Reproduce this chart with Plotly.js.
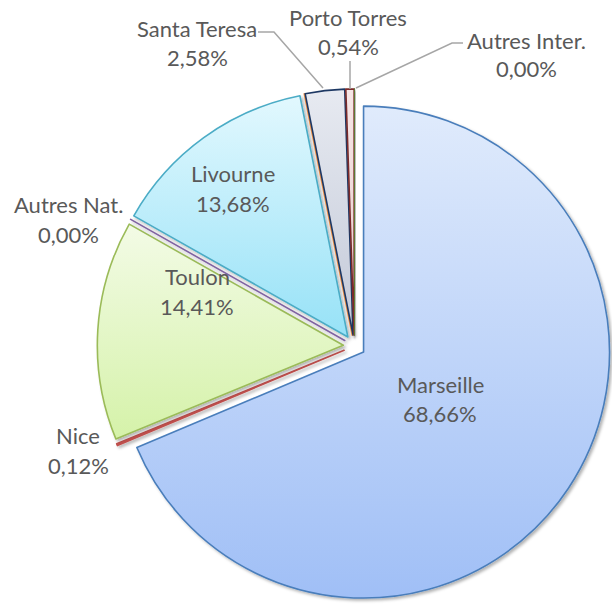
<!DOCTYPE html>
<html><head><meta charset="utf-8">
<script src="https://cdn.plot.ly/plotly-3.0.1.min.js"></script>
<style>html,body{margin:0;padding:0;background:#fff}#chart{width:612px;height:605px}</style>
</head><body><div id="chart"></div>
<script>
// Data
const labels = ['Marseille','Nice','Toulon','Autres Nat.','Livourne','Autre','Santa Teresa','Porto Torres','Autres Inter.'];
const values = [68.66, 0.12, 14.41, 0.001, 13.68, 0.001, 2.58, 0.54, 0.001];
const showLabel = [true, true, true, true, true, false, true, true, true];

// Styles
const borderColors = ['#4a7ebb','#c0504d','#9bbb59','#8064a2','#4bacc6','#f79646','#1f3864','#7b2c2a','#5f7a30'];
const gradTop    = ['#e0ebfc','#d99694','#f3fbe6','#b3a2c7','#e2f8fe','#fac090','#e7eaf1','#f6e6e6','#c3d69b'];
const gradBottom = ['#a0bff6','#c0504d','#d5f2a9','#8064a2','#97e2f7','#f79646','#c3c9d8','#e8cccc','#9bbb59'];
const solid      = ['#c2d6f9','#c0504d','#e4f7c7','#8064a2','#bdeefb','#f79646','#d5d9e4','#efd9d9','#9bbb59'];

// Label placement (px in the 612x605 picture)
const labelPos = [[440,384,413],[78,435,465],[197,277,306],[68,204,234],[233,174,203],[0,0,0],[197,28,57],[348,18,47],[526,40,68]];
const leaders = [
  null,null,null,null,null,null,
  [[258,32],[274,32],[323,88]],
  [[350,61],[350,89]],
  [[463,43],[452,43],[356,88]]
];

const W = 612, H = 605;
const px = x => x / W, py = y => 1 - y / H;
const fmt = v => v.toFixed(2).replace('.', ',') + '%';
const font = {family: 'Lato, "Open Sans", sans-serif', size: 22, color: '#595959'};

const annotations = [];
const shapes = [];
labels.forEach((lab, i) => {
  if (!showLabel[i]) return;
  const p = labelPos[i];
  annotations.push({text: lab, x: px(p[0]), y: py(p[1]), xref: 'paper', yref: 'paper', showarrow: false, xanchor: 'center', yanchor: 'middle', font});
  annotations.push({text: fmt(values[i]), x: px(p[0]), y: py(p[2]), xref: 'paper', yref: 'paper', showarrow: false, xanchor: 'center', yanchor: 'middle', font});
  if (leaders[i]) {
    const pts = leaders[i];
    let d = 'M' + pts.map(q => px(q[0]) + ',' + py(q[1])).join(' L');
    shapes.push({type: 'path', xref: 'paper', yref: 'paper', path: d, line: {color: '#a6a6a6', width: 1.5}});
  }
});

const trace = {
  type: 'pie',
  labels: labels,
  values: values,
  sort: false,
  direction: 'clockwise',
  rotation: 0,
  pull: values.map(() => 0.045),
  textinfo: 'none',
  hoverinfo: 'label+percent',
  marker: {colors: solid, line: {color: borderColors, width: 1.6}},
  domain: {x: [0.158, 1.0], y: [0.0033, 0.853]}
};

const layout = {
  width: W, height: H,
  margin: {l: 0, r: 0, t: 0, b: 0},
  showlegend: false,
  paper_bgcolor: '#ffffff',
  annotations, shapes
};

Plotly.newPlot('chart', [trace], layout, {displayModeBar: false, staticPlot: true}).then(() => {
  const svg = document.querySelector('#chart svg.main-svg');
  const NS = 'http://www.w3.org/2000/svg';
  const defs = document.createElementNS(NS, 'defs');
  let html = '<filter id="sh" x="-10%" y="-10%" width="130%" height="130%"><feDropShadow dx="2" dy="2" stdDeviation="1.5" flood-color="#000" flood-opacity="0.3"/></filter>';
  gradTop.forEach((c, i) => {
    html += '<linearGradient id="pg' + i + '" x1="0" y1="0" x2="0" y2="1"><stop offset="0" stop-color="' + c + '"/><stop offset="1" stop-color="' + gradBottom[i] + '"/></linearGradient>';
  });
  defs.innerHTML = html;
  svg.insertBefore(defs, svg.firstChild);
  const slices = document.querySelectorAll('#chart g.slice');
  slices.forEach((g, i) => {
    const path = g.querySelector('path.surface');
    if (path) path.style.fill = 'url(#pg' + i + ')';
    g.setAttribute('filter', 'url(#sh)');
  });
});
</script>
</body></html>
